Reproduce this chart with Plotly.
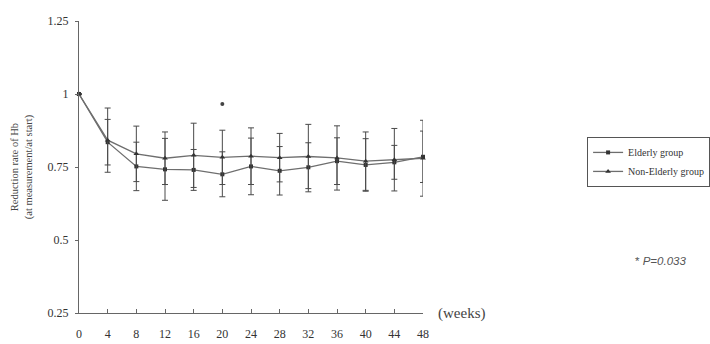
import plotly.graph_objects as go

weeks = [0, 4, 8, 12, 16, 20, 24, 28, 32, 36, 40, 44, 48]
elderly = [1.0, 0.835, 0.752, 0.742, 0.740, 0.725, 0.752, 0.737, 0.749, 0.770, 0.757, 0.766, 0.785]
elderly_sd = [0, 0.078, 0.083, 0.106, 0.070, 0.077, 0.097, 0.083, 0.084, 0.080, 0.090, 0.058, 0.088]
non_elderly = [1.0, 0.842, 0.795, 0.780, 0.790, 0.783, 0.787, 0.782, 0.786, 0.781, 0.770, 0.775, 0.780]
non_elderly_sd = [0, 0.110, 0.095, 0.090, 0.110, 0.093, 0.097, 0.083, 0.110, 0.110, 0.100, 0.107, 0.130]
sig_week = 20
sig_value = 0.966
y_ticks = [0.25, 0.5, 0.75, 1, 1.25]
y_tick_text = ["0.25", "0.5", "0.75", "1", "1.25"]

font_family = "Liberation Serif, Times New Roman, serif"
line_col = "#6e6e6e"
err_col = "#4a4a4a"

fig = go.Figure()
fig.add_trace(go.Scatter(
    x=weeks, y=elderly, name="Elderly group", mode="lines+markers", cliponaxis=False,
    line=dict(color=line_col, width=1.3),
    marker=dict(symbol="square", size=4, color="#333333"),
    error_y=dict(type="data", array=elderly_sd, visible=True, color=err_col, thickness=1, width=3),
))
fig.add_trace(go.Scatter(
    x=weeks, y=non_elderly, name="Non-Elderly group", mode="lines+markers", cliponaxis=False,
    line=dict(color=line_col, width=1.3),
    marker=dict(symbol="triangle-up", size=5, color="#333333"),
    error_y=dict(type="data", array=non_elderly_sd, visible=True, color=err_col, thickness=1, width=3),
))
fig.add_trace(go.Scatter(
    x=[sig_week], y=[sig_value], mode="markers", showlegend=False, cliponaxis=False,
    marker=dict(symbol="circle", size=4, color="#444444"),
))

fig.update_layout(
    width=710, height=344,
    margin=dict(l=79, r=287, t=21, b=31, autoexpand=False),
    paper_bgcolor="white", plot_bgcolor="white",
    font=dict(family=font_family, size=12, color="#333333"),
    showlegend=True,
    legend=dict(
        x=1.477, y=0.603, xanchor="left", yanchor="top",
        bordercolor="#555555", borderwidth=1, bgcolor="white",
        font=dict(family=font_family, size=10, color="#333333"),
        itemwidth=30, tracegroupgap=2,
    ),
    xaxis=dict(
        range=[0, 48], tickvals=weeks, ticktext=[str(w) for w in weeks],
        showgrid=False, zeroline=False, showline=True, linecolor="#666666", linewidth=1,
        ticks="inside", ticklen=4, tickcolor="#666666",
        ticklabelstandoff=10,
        tickfont=dict(family=font_family, size=12, color="#333333"),
    ),
    yaxis=dict(
        range=[0.25, 1.25], tickvals=y_ticks, ticktext=y_tick_text,
        showgrid=False, zeroline=False, showline=True, linecolor="#666666", linewidth=1,
        ticks="outside", ticklen=3, tickcolor="#666666",
        ticklabelstandoff=4,
        tickfont=dict(family=font_family, size=12, color="#333333"),
    ),
    annotations=[
        dict(text="(weeks)", xref="paper", yref="paper", x=1.038, y=0.0,
             xanchor="left", yanchor="middle", showarrow=False,
             font=dict(family=font_family, size=15, color="#444444")),
        dict(text="* <i>P=0.033</i>", xref="paper", yref="paper", x=1.61, y=0.178,
             xanchor="left", yanchor="middle", showarrow=False,
             font=dict(family="Liberation Sans, Arial, sans-serif", size=11.5, color="#555555")),
        dict(text="Reduction rate of Hb<br>(at measurement/at start)", xref="paper", yref="paper",
             x=-0.165, y=0.5, xanchor="center", yanchor="middle", textangle=-90,
             showarrow=False,
             font=dict(family=font_family, size=10.5, color="#444444")),
    ],
)

fig.write_html("out.html")
